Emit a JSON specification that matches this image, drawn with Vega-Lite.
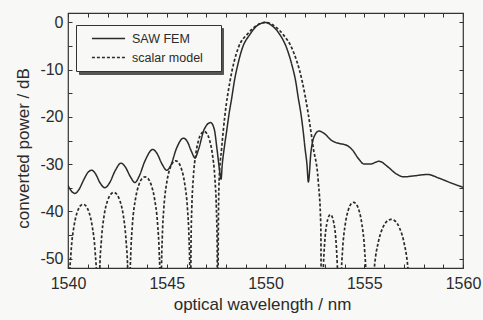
{
  "$schema": "https://vega.github.io/schema/vega-lite/v6.json",
  "width": 395,
  "height": 255,
  "autosize": {"type": "none"},
  "padding": {"left": 68, "top": 13, "right": 20, "bottom": 52},
  "background": "#f8f8f6",
  "data": {"values": [
    {"wl": 1540.0, "db": -34.5, "model": "SAW FEM"},
    {"wl": 1540.15, "db": -35.6, "model": "SAW FEM"},
    {"wl": 1540.35, "db": -36.2, "model": "SAW FEM"},
    {"wl": 1540.55, "db": -35.4, "model": "SAW FEM"},
    {"wl": 1540.8, "db": -33.3, "model": "SAW FEM"},
    {"wl": 1541.0, "db": -31.8, "model": "SAW FEM"},
    {"wl": 1541.2, "db": -31.3, "model": "SAW FEM"},
    {"wl": 1541.4, "db": -32.1, "model": "SAW FEM"},
    {"wl": 1541.6, "db": -33.8, "model": "SAW FEM"},
    {"wl": 1541.87, "db": -35.0, "model": "SAW FEM"},
    {"wl": 1542.1, "db": -34.0, "model": "SAW FEM"},
    {"wl": 1542.4, "db": -31.3, "model": "SAW FEM"},
    {"wl": 1542.68, "db": -29.8, "model": "SAW FEM"},
    {"wl": 1542.9, "db": -30.6, "model": "SAW FEM"},
    {"wl": 1543.15, "db": -32.6, "model": "SAW FEM"},
    {"wl": 1543.39, "db": -33.9, "model": "SAW FEM"},
    {"wl": 1543.6, "db": -32.6, "model": "SAW FEM"},
    {"wl": 1543.9, "db": -29.3, "model": "SAW FEM"},
    {"wl": 1544.29, "db": -26.9, "model": "SAW FEM"},
    {"wl": 1544.5, "db": -27.7, "model": "SAW FEM"},
    {"wl": 1544.75, "db": -29.9, "model": "SAW FEM"},
    {"wl": 1545.0, "db": -31.3, "model": "SAW FEM"},
    {"wl": 1545.2, "db": -30.3, "model": "SAW FEM"},
    {"wl": 1545.5, "db": -26.6, "model": "SAW FEM"},
    {"wl": 1545.84, "db": -24.5, "model": "SAW FEM"},
    {"wl": 1546.05, "db": -25.3, "model": "SAW FEM"},
    {"wl": 1546.25, "db": -27.3, "model": "SAW FEM"},
    {"wl": 1546.43, "db": -28.7, "model": "SAW FEM"},
    {"wl": 1546.6, "db": -27.0, "model": "SAW FEM"},
    {"wl": 1546.9, "db": -22.6, "model": "SAW FEM"},
    {"wl": 1547.22, "db": -21.2, "model": "SAW FEM"},
    {"wl": 1547.4, "db": -22.5, "model": "SAW FEM"},
    {"wl": 1547.55, "db": -27.0, "model": "SAW FEM"},
    {"wl": 1547.68, "db": -31.5, "model": "SAW FEM"},
    {"wl": 1547.75, "db": -33.2, "model": "SAW FEM"},
    {"wl": 1547.81, "db": -30.1, "model": "SAW FEM"},
    {"wl": 1547.91, "db": -26.6, "model": "SAW FEM"},
    {"wl": 1548.03, "db": -23.1, "model": "SAW FEM"},
    {"wl": 1548.15, "db": -19.5, "model": "SAW FEM"},
    {"wl": 1548.29, "db": -16.0, "model": "SAW FEM"},
    {"wl": 1548.42, "db": -12.5, "model": "SAW FEM"},
    {"wl": 1548.6, "db": -8.9, "model": "SAW FEM"},
    {"wl": 1548.83, "db": -5.4, "model": "SAW FEM"},
    {"wl": 1549.2, "db": -2.6, "model": "SAW FEM"},
    {"wl": 1549.6, "db": -0.6, "model": "SAW FEM"},
    {"wl": 1550.0, "db": 0.0, "model": "SAW FEM"},
    {"wl": 1550.3, "db": -0.6, "model": "SAW FEM"},
    {"wl": 1550.73, "db": -2.6, "model": "SAW FEM"},
    {"wl": 1551.07, "db": -5.4, "model": "SAW FEM"},
    {"wl": 1551.33, "db": -8.9, "model": "SAW FEM"},
    {"wl": 1551.53, "db": -12.5, "model": "SAW FEM"},
    {"wl": 1551.66, "db": -16.0, "model": "SAW FEM"},
    {"wl": 1551.8, "db": -19.5, "model": "SAW FEM"},
    {"wl": 1551.91, "db": -23.1, "model": "SAW FEM"},
    {"wl": 1552.0, "db": -26.6, "model": "SAW FEM"},
    {"wl": 1552.1, "db": -30.1, "model": "SAW FEM"},
    {"wl": 1552.17, "db": -33.8, "model": "SAW FEM"},
    {"wl": 1552.3, "db": -27.5, "model": "SAW FEM"},
    {"wl": 1552.45, "db": -24.3, "model": "SAW FEM"},
    {"wl": 1552.7, "db": -23.0, "model": "SAW FEM"},
    {"wl": 1553.0, "db": -23.6, "model": "SAW FEM"},
    {"wl": 1553.35, "db": -25.0, "model": "SAW FEM"},
    {"wl": 1553.7, "db": -25.6, "model": "SAW FEM"},
    {"wl": 1554.1, "db": -26.0, "model": "SAW FEM"},
    {"wl": 1554.4, "db": -27.0, "model": "SAW FEM"},
    {"wl": 1554.7, "db": -28.8, "model": "SAW FEM"},
    {"wl": 1555.0, "db": -30.0, "model": "SAW FEM"},
    {"wl": 1555.3, "db": -30.0, "model": "SAW FEM"},
    {"wl": 1555.75, "db": -29.4, "model": "SAW FEM"},
    {"wl": 1556.2, "db": -30.6, "model": "SAW FEM"},
    {"wl": 1556.6, "db": -32.0, "model": "SAW FEM"},
    {"wl": 1557.0, "db": -32.7, "model": "SAW FEM"},
    {"wl": 1557.5, "db": -32.5, "model": "SAW FEM"},
    {"wl": 1558.2, "db": -32.2, "model": "SAW FEM"},
    {"wl": 1558.8, "db": -33.0, "model": "SAW FEM"},
    {"wl": 1559.4, "db": -34.0, "model": "SAW FEM"},
    {"wl": 1560.0, "db": -34.9, "model": "SAW FEM"},

    {"wl": 1540.0, "db": -80, "model": "scalar model"},
    {"wl": 1540.077, "db": -54.6, "model": "scalar model"},
    {"wl": 1540.153, "db": -48.7, "model": "scalar model"},
    {"wl": 1540.306, "db": -43.1, "model": "scalar model"},
    {"wl": 1540.459, "db": -40.3, "model": "scalar model"},
    {"wl": 1540.612, "db": -38.9, "model": "scalar model"},
    {"wl": 1540.765, "db": -38.5, "model": "scalar model"},
    {"wl": 1540.918, "db": -38.9, "model": "scalar model"},
    {"wl": 1541.071, "db": -40.3, "model": "scalar model"},
    {"wl": 1541.224, "db": -43.1, "model": "scalar model"},
    {"wl": 1541.377, "db": -48.7, "model": "scalar model"},
    {"wl": 1541.454, "db": -54.6, "model": "scalar model"},
    {"wl": 1541.53, "db": -80, "model": "scalar model"},
    {"wl": 1541.61, "db": -52.1, "model": "scalar model"},
    {"wl": 1541.69, "db": -46.2, "model": "scalar model"},
    {"wl": 1541.84, "db": -40.6, "model": "scalar model"},
    {"wl": 1542.0, "db": -37.8, "model": "scalar model"},
    {"wl": 1542.16, "db": -36.4, "model": "scalar model"},
    {"wl": 1542.32, "db": -36.0, "model": "scalar model"},
    {"wl": 1542.47, "db": -36.4, "model": "scalar model"},
    {"wl": 1542.63, "db": -37.8, "model": "scalar model"},
    {"wl": 1542.79, "db": -40.6, "model": "scalar model"},
    {"wl": 1542.94, "db": -46.2, "model": "scalar model"},
    {"wl": 1543.02, "db": -52.1, "model": "scalar model"},
    {"wl": 1543.1, "db": -80, "model": "scalar model"},
    {"wl": 1543.13, "db": -56.7, "model": "scalar model"},
    {"wl": 1543.18, "db": -48.8, "model": "scalar model"},
    {"wl": 1543.26, "db": -42.9, "model": "scalar model"},
    {"wl": 1543.42, "db": -37.3, "model": "scalar model"},
    {"wl": 1543.58, "db": -34.5, "model": "scalar model"},
    {"wl": 1543.74, "db": -33.1, "model": "scalar model"},
    {"wl": 1543.9, "db": -32.7, "model": "scalar model"},
    {"wl": 1544.06, "db": -33.1, "model": "scalar model"},
    {"wl": 1544.22, "db": -34.5, "model": "scalar model"},
    {"wl": 1544.38, "db": -37.3, "model": "scalar model"},
    {"wl": 1544.54, "db": -42.9, "model": "scalar model"},
    {"wl": 1544.62, "db": -48.8, "model": "scalar model"},
    {"wl": 1544.67, "db": -56.7, "model": "scalar model"},
    {"wl": 1544.7, "db": -80, "model": "scalar model"},
    {"wl": 1544.73, "db": -53.3, "model": "scalar model"},
    {"wl": 1544.775, "db": -45.4, "model": "scalar model"},
    {"wl": 1544.85, "db": -39.5, "model": "scalar model"},
    {"wl": 1545.0, "db": -33.9, "model": "scalar model"},
    {"wl": 1545.15, "db": -31.1, "model": "scalar model"},
    {"wl": 1545.3, "db": -29.7, "model": "scalar model"},
    {"wl": 1545.45, "db": -29.3, "model": "scalar model"},
    {"wl": 1545.6, "db": -29.7, "model": "scalar model"},
    {"wl": 1545.75, "db": -31.1, "model": "scalar model"},
    {"wl": 1545.9, "db": -33.9, "model": "scalar model"},
    {"wl": 1546.05, "db": -39.5, "model": "scalar model"},
    {"wl": 1546.125, "db": -45.4, "model": "scalar model"},
    {"wl": 1546.17, "db": -53.3, "model": "scalar model"},
    {"wl": 1546.2, "db": -80, "model": "scalar model"},
    {"wl": 1546.228, "db": -47.1, "model": "scalar model"},
    {"wl": 1546.269, "db": -39.2, "model": "scalar model"},
    {"wl": 1546.338, "db": -33.3, "model": "scalar model"},
    {"wl": 1546.476, "db": -27.7, "model": "scalar model"},
    {"wl": 1546.614, "db": -24.9, "model": "scalar model"},
    {"wl": 1546.752, "db": -23.5, "model": "scalar model"},
    {"wl": 1546.89, "db": -23.1, "model": "scalar model"},
    {"wl": 1547.028, "db": -23.5, "model": "scalar model"},
    {"wl": 1547.166, "db": -24.9, "model": "scalar model"},
    {"wl": 1547.304, "db": -27.7, "model": "scalar model"},
    {"wl": 1547.442, "db": -33.3, "model": "scalar model"},
    {"wl": 1547.511, "db": -39.2, "model": "scalar model"},
    {"wl": 1547.552, "db": -47.1, "model": "scalar model"},
    {"wl": 1547.58, "db": -80, "model": "scalar model"},
    {"wl": 1547.61, "db": -45, "model": "scalar model"},
    {"wl": 1547.65, "db": -33.6, "model": "scalar model"},
    {"wl": 1547.78, "db": -26.6, "model": "scalar model"},
    {"wl": 1547.95, "db": -19.5, "model": "scalar model"},
    {"wl": 1548.2, "db": -12.5, "model": "scalar model"},
    {"wl": 1548.62, "db": -5.4, "model": "scalar model"},
    {"wl": 1549.1, "db": -2.4, "model": "scalar model"},
    {"wl": 1549.5, "db": -0.8, "model": "scalar model"},
    {"wl": 1550.0, "db": 0.0, "model": "scalar model"},
    {"wl": 1550.5, "db": -0.9, "model": "scalar model"},
    {"wl": 1550.9, "db": -2.6, "model": "scalar model"},
    {"wl": 1551.33, "db": -5.4, "model": "scalar model"},
    {"wl": 1551.86, "db": -12.5, "model": "scalar model"},
    {"wl": 1552.17, "db": -19.5, "model": "scalar model"},
    {"wl": 1552.42, "db": -26.6, "model": "scalar model"},
    {"wl": 1552.67, "db": -33.6, "model": "scalar model"},
    {"wl": 1552.8, "db": -43, "model": "scalar model"},
    {"wl": 1552.85, "db": -80, "model": "scalar model"},
    {"wl": 1552.89, "db": -56.8, "model": "scalar model"},
    {"wl": 1552.94, "db": -50.9, "model": "scalar model"},
    {"wl": 1553.02, "db": -45.3, "model": "scalar model"},
    {"wl": 1553.11, "db": -42.5, "model": "scalar model"},
    {"wl": 1553.2, "db": -41.1, "model": "scalar model"},
    {"wl": 1553.285, "db": -40.7, "model": "scalar model"},
    {"wl": 1553.37, "db": -41.1, "model": "scalar model"},
    {"wl": 1553.46, "db": -42.5, "model": "scalar model"},
    {"wl": 1553.55, "db": -45.3, "model": "scalar model"},
    {"wl": 1553.63, "db": -50.9, "model": "scalar model"},
    {"wl": 1553.68, "db": -56.8, "model": "scalar model"},
    {"wl": 1553.72, "db": -80, "model": "scalar model"},
    {"wl": 1553.83, "db": -54.2, "model": "scalar model"},
    {"wl": 1553.9, "db": -48.3, "model": "scalar model"},
    {"wl": 1554.04, "db": -42.7, "model": "scalar model"},
    {"wl": 1554.18, "db": -39.9, "model": "scalar model"},
    {"wl": 1554.32, "db": -38.5, "model": "scalar model"},
    {"wl": 1554.46, "db": -38.1, "model": "scalar model"},
    {"wl": 1554.6, "db": -38.5, "model": "scalar model"},
    {"wl": 1554.74, "db": -39.9, "model": "scalar model"},
    {"wl": 1554.88, "db": -42.7, "model": "scalar model"},
    {"wl": 1555.02, "db": -48.3, "model": "scalar model"},
    {"wl": 1555.09, "db": -54.2, "model": "scalar model"},
    {"wl": 1555.16, "db": -80, "model": "scalar model"},
    {"wl": 1555.406, "db": -57.8, "model": "scalar model"},
    {"wl": 1555.512, "db": -51.9, "model": "scalar model"},
    {"wl": 1555.724, "db": -46.3, "model": "scalar model"},
    {"wl": 1555.936, "db": -43.5, "model": "scalar model"},
    {"wl": 1556.148, "db": -42.1, "model": "scalar model"},
    {"wl": 1556.36, "db": -41.7, "model": "scalar model"},
    {"wl": 1556.572, "db": -42.1, "model": "scalar model"},
    {"wl": 1556.784, "db": -43.5, "model": "scalar model"},
    {"wl": 1556.996, "db": -46.3, "model": "scalar model"},
    {"wl": 1557.208, "db": -51.9, "model": "scalar model"},
    {"wl": 1557.314, "db": -57.8, "model": "scalar model"},
    {"wl": 1557.42, "db": -80, "model": "scalar model"}
  ]},
  "encoding": {
    "strokeDash": {
      "field": "model", "type": "nominal",
      "scale": {"domain": ["SAW FEM", "scalar model"], "range": [[1, 0], [3, 2]]},
      "legend": {
        "title": null, "orient": "none", "legendX": 8, "legendY": 12,
        "fillColor": "#f8f8f6", "strokeColor": "#333", "zindex": 2,
        "labelExpr": "datum.label + '\u00a0\u00a0\u00a0\u200b'"
      }
    },
    "color": {
      "field": "model", "type": "nominal",
      "scale": {"range": ["#2b2b2b", "#2b2b2b"]},
      "legend": {
        "title": null, "orient": "none", "legendX": 11, "legendY": 15,
        "fillColor": "#555555", "strokeColor": "#555555", "zindex": 1,
        "labelExpr": "''", "labelOffset": 87
      }
    }
  },
  "layer": [
    {
      "transform": [{"filter": "datum.model === 'SAW FEM'"}],
      "mark": {"type": "line", "clip": true, "interpolate": "monotone", "strokeWidth": 1.5},
      "encoding": {
        "x": {
          "field": "wl", "type": "quantitative",
          "scale": {"domain": [1540, 1560], "nice": false, "zero": false},
          "axis": {
            "orient": "bottom", "title": "optical wavelength / nm",
            "values": [1540,1541,1542,1543,1544,1545,1546,1547,1548,1549,1550,1551,1552,1553,1554,1555,1556,1557,1558,1559,1560],
            "labelExpr": "datum.value % 5 === 0 ? '' + datum.value : ''",
            "labelPadding": 24, "labelBaseline": "alphabetic", "labelFlush": false,
            "titleX": 194, "titleY": 41, "titleBaseline": "alphabetic", "titleAnchor": "middle"
          }
        },
        "y": {
          "field": "db", "type": "quantitative",
          "scale": {"domain": [-52, 2], "nice": false, "zero": false},
          "axis": {
            "orient": "left", "title": "converted power / dB",
            "values": [-50,-45,-40,-35,-30,-25,-20,-15,-10,-5,0],
            "labelExpr": "datum.value % 10 === 0 ? (datum.value < 0 ? '-' + abs(datum.value) : '' + datum.value) : ''",
            "labelPadding": 9, "labelFlush": false,
            "titleX": -40, "titleY": 135, "titleBaseline": "alphabetic", "titleAngle": -90, "titleAlign": "center"
          }
        }
      }
    },
    {
      "transform": [{"filter": "datum.model === 'scalar model'"}],
      "mark": {"type": "line", "clip": true, "interpolate": "monotone", "strokeWidth": 1.7},
      "encoding": {
        "x": {
          "field": "wl", "type": "quantitative",
          "axis": {
            "orient": "top", "title": null, "labels": false,
            "values": [1540,1541,1542,1543,1544,1545,1546,1547,1548,1549,1550,1551,1552,1553,1554,1555,1556,1557,1558,1559,1560]
          }
        },
        "y": {
          "field": "db", "type": "quantitative",
          "axis": {
            "orient": "right", "title": null, "labels": false,
            "values": [-50,-45,-40,-35,-30,-25,-20,-15,-10,-5,0]
          }
        }
      }
    }
  ],
  "resolve": {"axis": {"x": "independent", "y": "independent"}},
  "config": {
    "view": {"stroke": "#333", "strokeWidth": 1.2},
    "font": "Liberation Sans",
    "axis": {
      "domain": false, "grid": false, "tickColor": "#333", "tickSize": -4, "tickWidth": 1,
      "labelFont": "Liberation Sans", "labelFontSize": 16, "labelColor": "#2b2b2b",
      "titleFont": "Liberation Sans", "titleFontSize": 17, "titleFontWeight": "normal", "titleColor": "#2b2b2b"
    },
    "legend": {
      "direction": "vertical", "padding": 7, "symbolType": "stroke", "symbolSize": 1100,
      "symbolStrokeWidth": 1.4, "symbolStrokeColor": "#2b2b2b", "clipHeight": 13, "rowPadding": 6,
      "labelFont": "Liberation Sans", "labelFontSize": 12.5, "labelColor": "#2b2b2b", "labelOffset": 6,
      "symbolOffset": 8, "strokeWidth": 1, "cornerRadius": 0
    }
  }
}
